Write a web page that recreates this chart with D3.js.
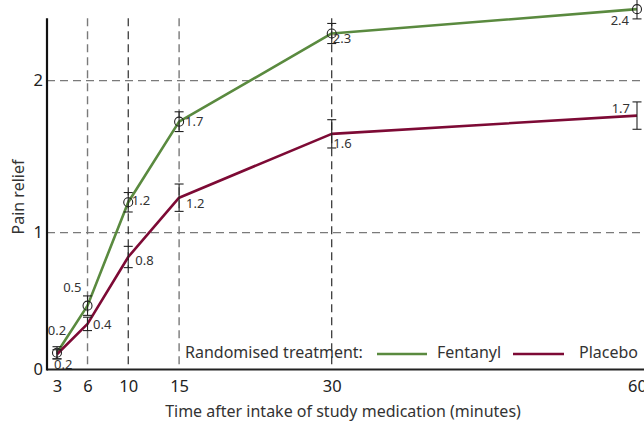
<!DOCTYPE html>
<html>
<head>
<meta charset="utf-8">
<script src="https://cdn.jsdelivr.net/npm/d3@7"></script>
<style>
  html, body { margin: 0; padding: 0; background: #fff; }
  svg { display: block; font-family: "Noto Sans", "Open Sans", sans-serif; }
</style>
</head>
<body>
<svg id="chart" width="644" height="421"></svg>
<script>
// Time points (minutes after intake)
const minutes = [3, 6, 10, 15, 30, 60];
const xTickLabels = ["3", "6", "10", "15", "30", "60"];

// Mean pain relief per treatment arm
const fentanylMean = [0.21, 0.52, 1.20, 1.73, 2.31, 2.47];
const placeboMean  = [0.20, 0.40, 0.84, 1.23, 1.65, 1.77];

// Half-width of the error bar at each time point
const fentanylErr = [0.04, 0.064, 0.064, 0.065, 0.066, 0.064];
const placeboErr  = [0.03, 0.044, 0.07, 0.09, 0.093, 0.09];

const yTickValues = [0, 1, 2];
const gridX = [6, 10, 15, 30];
const gridY = [1, 2];

const seriesNames = ["Fentanyl", "Placebo"];
const legendTitle = "Randomised treatment:";
const xTitle = "Time after intake of study medication (minutes)";
const yTitle = "Pain relief";

// ---- layout ----
const W = 644, H = 421;
const colors = { Fentanyl: "#5a8a3f", Placebo: "#7d0a35" };
const ink = "#333";

const svg = d3.select("#chart");

const x = d3.scaleLinear().domain([3, 60]).range([57, 637]);
// Axis floor sits at 0.1; clamping places the "0" label on the floor line
const pxPerUnit = 152.04;
const yFloor = 0.1, yAxisTop = 2.41, yCeil = 2.7;
const y = d3.scaleLinear().domain([yFloor, yCeil])
  .range([369.5, 369.5 - (yCeil - yFloor) * pxPerUnit]).clamp(true);

const axisLeftX = 47;
const axisBottomY = y(yFloor);
const plotTop = y(yAxisTop);

// ---- grid ----
const grid = svg.append("g");
grid.selectAll("line.gy").data(gridY).join("line")
  .attr("x1", axisLeftX).attr("x2", W)
  .attr("y1", d => y(d)).attr("y2", d => y(d))
  .attr("stroke", "#7a7a7a").attr("stroke-width", 1.4)
  .attr("stroke-dasharray", "8,5");
grid.selectAll("line.gx").data(gridX).join("line")
  .attr("x1", d => x(d)).attr("x2", d => x(d))
  .attr("y1", plotTop).attr("y2", axisBottomY)
  .attr("stroke", d => (d === 10 || d === 30) ? "#1a1a1a" : "#7a7a7a")
  .attr("stroke-width", d => (d === 10 || d === 30) ? 1.1 : 1.4)
  .attr("stroke-dasharray", "8,5");

// ---- lines ----
const series = [
  { name: "Fentanyl", mean: fentanylMean, err: fentanylErr, marker: true },
  { name: "Placebo",  mean: placeboMean,  err: placeboErr,  marker: false }
];

const line = d3.line().x(d => x(d.t)).y(d => y(d.v));
series.forEach(s => {
  const pts = minutes.map((t, i) => ({ t, v: s.mean[i], e: s.err[i] }));
  s.pts = pts;
  svg.append("path").datum(pts)
    .attr("d", line)
    .attr("fill", "none")
    .attr("stroke", colors[s.name])
    .attr("stroke-width", 2.6)
    .attr("stroke-linejoin", "round");
});

// ---- error bars and markers ----
const cap = 4.5;
series.forEach(s => {
  const g = svg.append("g").attr("stroke", "#222").attr("stroke-width", 1.1).attr("fill", "none");
  const eb = g.selectAll("g").data(s.pts).join("g");
  eb.append("line")
    .attr("x1", d => x(d.t)).attr("x2", d => x(d.t))
    .attr("y1", d => y(d.v - d.e)).attr("y2", d => y(d.v + d.e));
  eb.append("line")
    .attr("x1", d => x(d.t) - cap).attr("x2", d => x(d.t) + cap)
    .attr("y1", d => y(d.v + d.e)).attr("y2", d => y(d.v + d.e));
  eb.append("line")
    .attr("x1", d => x(d.t) - cap).attr("x2", d => x(d.t) + cap)
    .attr("y1", d => y(d.v - d.e)).attr("y2", d => y(d.v - d.e));
  if (s.marker) {
    g.selectAll("circle").data(s.pts).join("circle")
      .attr("cx", d => x(d.t)).attr("cy", d => y(d.v)).attr("r", 4.5);
  }
});

// ---- value labels (one decimal, truncated) ----
const fmt = v => (Math.floor(v * 10 + 1e-9) / 10).toFixed(1);
// [dx, dy, anchor] for each point's label
const labelPlacement = {
  Fentanyl: [[0, -23, "middle"], [-6, -19, "end"], [3.5, -2, "start"], [6, -1, "start"], [1, 5, "start"], [-8, 11, "end"]],
  Placebo:  [[-3, 10, "start"], [5.5, 0, "start"], [7, 3, "start"], [7, 5, "start"], [1.5, 9, "start"], [-7, -8, "end"]]
};
series.forEach(s => {
  svg.append("g").selectAll("text").data(s.pts).join("text")
    .attr("x", (d, i) => x(d.t) + labelPlacement[s.name][i][0])
    .attr("y", (d, i) => y(d.v) + labelPlacement[s.name][i][1])
    .attr("text-anchor", (d, i) => labelPlacement[s.name][i][2])
    .attr("dominant-baseline", "central")
    .attr("font-size", 13)
    .attr("fill", ink)
    .text(d => fmt(d.v));
});

// ---- axes ----
const xAxis = d3.axisBottom(x).tickValues(minutes)
  .tickFormat((d, i) => xTickLabels[i]).tickSize(0).tickPadding(11);
const gx = svg.append("g").attr("transform", `translate(0,${axisBottomY})`).call(xAxis);
gx.select(".domain").remove();
gx.selectAll("text").attr("font-size", 16.5).attr("fill", "#222")
  .attr("font-family", "'Noto Sans', sans-serif");

const yAxis = d3.axisLeft(y).tickValues(yTickValues).tickFormat(d3.format("d")).tickSize(0).tickPadding(4);
const gy = svg.append("g").attr("transform", `translate(${axisLeftX},0)`).call(yAxis);
gy.select(".domain").remove();
gy.selectAll("text").attr("font-size", 16.5).attr("fill", "#222")
  .attr("font-family", "'Noto Sans', sans-serif");

svg.append("line")
  .attr("x1", axisLeftX).attr("x2", W)
  .attr("y1", axisBottomY).attr("y2", axisBottomY)
  .attr("stroke", "#222").attr("stroke-width", 2);
svg.append("line")
  .attr("x1", axisLeftX).attr("x2", axisLeftX)
  .attr("y1", plotTop).attr("y2", axisBottomY + 1)
  .attr("stroke", "#111").attr("stroke-width", 2.2);

// ---- titles ----
svg.append("text")
  .attr("x", 343).attr("y", 411)
  .attr("text-anchor", "middle").attr("dominant-baseline", "central")
  .attr("font-size", 16).attr("fill", ink)
  .text(xTitle);
svg.append("text")
  .attr("transform", "translate(18,197) rotate(-90)")
  .attr("text-anchor", "middle").attr("dominant-baseline", "central")
  .attr("font-size", 16).attr("fill", ink)
  .text(yTitle);

// ---- legend ----
const legend = svg.append("g").attr("font-size", 16).attr("fill", ink);
legend.append("text").attr("x", 185).attr("y", 352)
  .attr("dominant-baseline", "central").text(legendTitle);
const legendItems = [
  { name: seriesNames[0], x0: 377, x1: 427, tx: 437 },
  { name: seriesNames[1], x0: 513, x1: 564, tx: 579 }
];
legendItems.forEach(it => {
  legend.append("line").attr("x1", it.x0).attr("x2", it.x1)
    .attr("y1", 354).attr("y2", 354)
    .attr("stroke", colors[it.name]).attr("stroke-width", 2.6);
  legend.append("text").attr("x", it.tx).attr("y", 352)
    .attr("dominant-baseline", "central").text(it.name);
});
</script>
</body>
</html>
